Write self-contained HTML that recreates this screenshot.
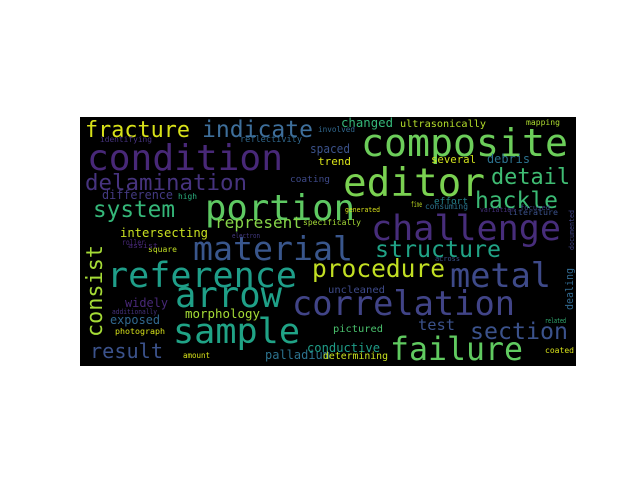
<!DOCTYPE html>
<html><head><meta charset="utf-8"><style>
html,body{margin:0;padding:0;background:#fff;width:640px;height:480px;overflow:hidden}
svg{display:block}
text{font-family:"DejaVu Sans Mono","Liberation Mono",monospace}
</style></head><body>
<svg id="c" width="640" height="480">
<rect x="80" y="117" width="496" height="249" fill="#000"/>
<g id="words"></g>
</svg>
<script>
const words = ["fracture","indicate","condition","delamination","difference","high","system","portion","represent","intersecting","composite","editor","detail","hackle","challenge","changed","ultrasonically","mapping","several","debris","effort","trend","fine","consuming","literature","material","structure","reference","procedure","metal","arrow","correlation","sample","pictured","test","section","failure","coated","uncleaned","morphology","exposed","photograph","widely","result","amount","palladium","conductive","determining","spaced","coating","involved","reflectivity","identifying","square","roller","specifically","electron","across","related","additionally","generated","variation","focused","assist","consist","dealing","documented"];
const xs = [85,202,87,85,102,178,93,205,215,120,361,343,491,475,371,341,400,526,431,487,434,318,411,425,508,193,375,107,312,450,175,292,173,333,418,470,390,545,328,185,110,115,125,90,183,265,307,323,310,290,318,240,100,148,122,303,232,435,545,112,345,480,520,128,102,573,574];
const ys = [137,137,170,190,199,199,217,220,228,237,156,196,184,208,240,127,127,125,163,163,204,165,207,209,215,260,257,287,277,287,307,315,343,332,330,339,360,353,293,318,324,334,307,358,358,359,352,359,153,182,132,142,142,252,245,225,238,261,323,314,212,212,210,248,337,310,250];
const sizes = [22,23,36,22,12,8,23,36,16,12,38,39,22,23,35,12,10,8,11,12,9,11,8,8,8,33,23,35,25,34,36,34,35,10,15,23,32,8,10,12,12,8,12,20,8,12,12,10,12,9,8,9,8,8,8,8,7,7,7,7,7,7,7,7,22,11,7];
const widths = [105,111,196,162,71,19,82,150,87,88,207,142,79,83,190,52,86,34,45,43,34,33,11,43,50,160,126,190,133,101,107,223,127,50,37,98,133,29,57,75,50,50,43,73,27,65,73,65,40,40,37,62,52,29,23,58,28,25,21,45,35,35,30,30,92,42,40];
const colors = ["#d8e219","#3e6f9b","#482878","#46337e","#443a83","#2ab07f","#35b779","#5ec962","#86d549","#c8e020","#6ccd5a","#7ad151","#3fbc73","#3bbb75","#472d7b","#35b779","#b5de2b","#addc30","#d0e11c","#2c728e","#25848e","#d8e219","#c2df23","#2c728e","#3b528b","#39568c","#20a386","#1f9e89","#c2df23","#3e4a89","#1fa088","#414487","#20a386","#4ac16d","#3b528b","#3b528b","#60ca60","#d8e219","#3e4a89","#a5db36","#31688e","#d8e219","#482878","#3b528b","#d8e219","#2c728e","#1f9e89","#c8e020","#3b528b","#3e4a89","#31688e","#31688e","#46337e","#c2df23","#482878","#a5db36","#443a83","#3b528b","#35b779","#46337e","#d8e219","#46337e","#3e4a89","#482878","#a5db36","#31688e","#414487"];
const rots = [0,0,0,0,0,0,0,0,0,0,0,0,0,0,0,0,0,0,0,0,0,0,0,0,0,0,0,0,0,0,0,0,0,0,0,0,0,0,0,0,0,0,0,0,0,0,0,0,0,0,0,0,0,0,0,0,0,0,0,0,0,0,0,0,-90,-90,-90];
const g = document.getElementById('words');
const NS = 'http://www.w3.org/2000/svg';
words.forEach((w,i)=>{
  const t = document.createElementNS(NS,'text');
  
  
  t.setAttribute('x', xs[i]);
  t.setAttribute('y', ys[i]);
  t.setAttribute('font-size', sizes[i]);
  t.setAttribute('fill', colors[i]);
  t.setAttribute('textLength', widths[i]);
  t.setAttribute('lengthAdjust', 'spacingAndGlyphs');
  if (rots[i]) t.setAttribute('transform', 'rotate(' + rots[i] + ' ' + xs[i] + ' ' + ys[i] + ')');
  t.textContent = w;
  g.appendChild(t);
});
</script>
</body></html>
